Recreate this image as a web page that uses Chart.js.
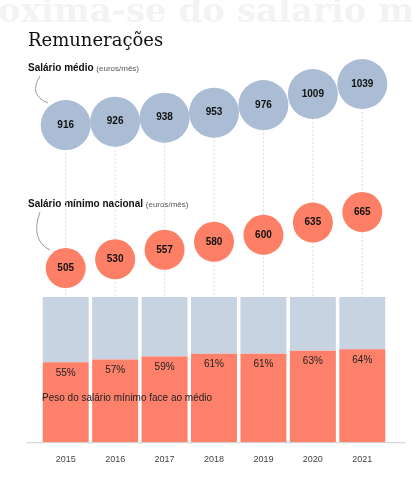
<!DOCTYPE html>
<html><head><meta charset="utf-8">
<script src="https://cdn.jsdelivr.net/npm/chart.js@4"></script>
<style>html,body{margin:0;padding:0;background:#fff}#w{position:relative;width:412px;height:479px}canvas{position:absolute;left:0;top:0}</style>
</head><body><div id="w"><canvas id="c" width="412" height="479"></canvas></div>
<script>
const years=['2015','2016','2017','2018','2019','2020','2021'];
const salarioMedio=[916,926,938,953,976,1009,1039];
const salarioMinimo=[505,530,557,580,600,635,665];
const peso=[55,57,59,61,61,63,64];
const resto=peso.map(p=>100-p);

const overlay={id:'ov',
beforeDatasetsDraw(ch){
  const c=ch.ctx,ya=ch.scales.ya,yb=ch.scales.yb,x=ch.scales.x;
  c.save();
  c.strokeStyle='#d3dce8';c.lineWidth=1;c.setLineDash([2,2]);
  years.forEach((y,i)=>{const px=x.getPixelForValue(i);
    c.beginPath();c.moveTo(px,ya.getPixelForValue(salarioMedio[i]));c.lineTo(px,yb.getPixelForValue(100));c.stroke();});
  c.restore();
},
afterDatasetsDraw(ch){
  const c=ch.ctx,x=ch.scales.x,yb=ch.scales.yb;
  c.save();
  c.fillStyle='#111';c.textAlign='center';c.textBaseline='middle';
  c.font='bold 10px "Liberation Sans",Arial';
  ch.getDatasetMeta(2).data.forEach((e,i)=>c.fillText(salarioMedio[i],e.x,e.y));
  ch.getDatasetMeta(3).data.forEach((e,i)=>c.fillText(salarioMinimo[i],e.x,e.y));
  c.font='10px "Liberation Sans",Arial';c.fillStyle='#222';
  peso.forEach((p,i)=>c.fillText(p+'%',x.getPixelForValue(i),yb.getPixelForValue(p)+11));
  c.textAlign='left';c.font='10px "Liberation Sans",Arial';
  c.fillText('Peso do salário mínimo face ao médio',42,398);
  c.strokeStyle='#ccc';c.lineWidth=1;c.beginPath();c.moveTo(27,ch.chartArea.bottom+0.5);c.lineTo(405,ch.chartArea.bottom+0.5);c.stroke();
  c.restore();
},
beforeDraw(ch){
  const c=ch.ctx;c.save();
  c.fillStyle='#f3f3f3';c.font='bold 34px "DejaVu Serif",serif';c.textBaseline='alphabetic';
  c.fillText('oxima-se do salário m',-2,22);
  c.fillStyle='#111';c.font='18px "DejaVu Serif",serif';
  c.fillText('Remunerações',28,46);
  c.font='bold 10px "Liberation Sans",Arial';c.fillText('Salário médio',28,71);
  let w=c.measureText('Salário médio ').width;
  c.font='8px "Liberation Sans",Arial';c.fillStyle='#555';c.fillText('(euros/mês)',28+w,71);
  c.fillStyle='#111';c.font='bold 10px "Liberation Sans",Arial';c.fillText('Salário mínimo nacional',28,207);
  w=c.measureText('Salário mínimo nacional ').width;
  c.font='8px "Liberation Sans",Arial';c.fillStyle='#555';c.fillText('(euros/mês)',28+w,207);
  c.strokeStyle='#999';c.lineWidth=1;
  c.beginPath();c.moveTo(40,76);c.quadraticCurveTo(28,95,48,103);c.stroke();
  c.beginPath();c.moveTo(40,212);c.quadraticCurveTo(30,240,50,250);c.stroke();
  c.restore();
}};

new Chart(document.getElementById('c'),{
 data:{labels:years,datasets:[
  {type:'bar',data:peso,backgroundColor:'#fd806a',yAxisID:'yb',stack:'s',barPercentage:0.93,categoryPercentage:1,order:5},
  {type:'bar',data:resto,backgroundColor:'#c8d3e1',yAxisID:'yb',stack:'s',barPercentage:0.93,categoryPercentage:1,order:5},
  {type:'bubble',data:salarioMedio.map((v,i)=>({x:i,y:v,r:25})),backgroundColor:'#aabdd5',borderWidth:0,yAxisID:'ya',order:1},
  {type:'bubble',data:salarioMinimo.map((v,i)=>({x:i,y:v,r:20})),backgroundColor:'#fd7f66',borderWidth:0,yAxisID:'ym',order:1}
 ]},
 options:{responsive:false,animation:false,
  layout:{padding:{left:41,right:23,top:40,bottom:10}},
  plugins:{legend:{display:false},tooltip:{enabled:false}},
  scales:{
   x:{type:'category',offset:true,grid:{display:false},border:{display:false},
      ticks:{color:'#444',font:{size:9,family:'"Liberation Sans",Arial'},padding:4}},
   yb:{stacked:true,min:0,max:277,display:false},
   ya:{min:-35,max:1171,display:false},
   ym:{min:7,max:1157,display:false}
  }},
 plugins:[overlay]
});
</script></body></html>
